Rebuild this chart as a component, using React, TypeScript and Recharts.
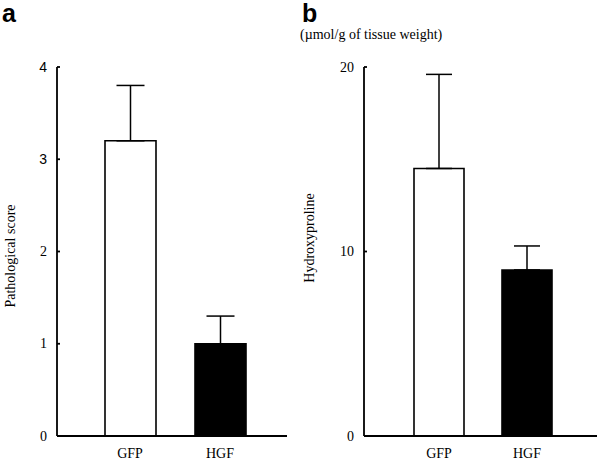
import React from 'react';
import { BarChart, Bar, XAxis, YAxis, ErrorBar, Cell, Label } from 'recharts';

const groups = ['GFP', 'HGF'];
const pathScore = [3.2, 1.0];
const pathScoreSd = [0.6, 0.3];
const hydroxy = [14.5, 9.0];
const hydroxySd = [5.1, 1.3];
const pathTicks = [0, 1, 2, 3, 4];
const hydroxyTicks = [0, 10, 20];

const fills = ['#ffffff', '#000000'];
const serif = '"Liberation Serif", "Times New Roman", serif';
const sans = '"Liberation Sans", Arial, sans-serif';

const pathData = groups.map((g, i) => ({ group: g, value: pathScore[i], err: [0, pathScoreSd[i]] }));
const hydroxyData = groups.map((g, i) => ({ group: g, value: hydroxy[i], err: [0, hydroxySd[i]] }));

// the scan uses a sans face for the upper two ticks of panel a
const PathTick = (props: any) => {
  const { x, y, payload } = props;
  const isSans = payload.value >= 3;
  return (
    <text x={x} y={y} textAnchor="end" dominantBaseline="central" fontSize={14}
      fontFamily={isSans ? sans : serif} fill="#000">
      {payload.value}
    </text>
  );
};

const yLabel = (text: string, cx: number, cy: number) => () => (
  <text x={cx} y={cy} transform={`rotate(-90, ${cx}, ${cy})`} textAnchor="middle"
    dominantBaseline="central" fontSize={14} fontFamily={serif} fill="#000">
    {text}
  </text>
);

const axisStyle = { stroke: '#000', strokeWidth: 1.8 };
const tickFont = { fontSize: 14, fontFamily: serif, fill: '#000' };

const App: React.FC = () => {
  return (
    <div style={{ position: 'absolute', left: 0, top: 0, width: 600, height: 463, background: '#fff' }}>
      <div style={{ position: 'absolute', left: 0, top: 0 }}>
        <BarChart width={300} height={463} data={pathData} margin={{ top: 67, right: 13, bottom: 0, left: 0 }}>
          <XAxis dataKey="group" height={27} tickLine={false} tickSize={0} tickMargin={12}
            axisLine={axisStyle} tick={tickFont} padding={{ left: 28, right: 22 }} />
          <YAxis width={57} domain={[0, 4]} ticks={pathTicks} interval={0} tickSize={-3} tickMargin={13}
            axisLine={axisStyle} tickLine={axisStyle} tick={<PathTick />}>
            <Label content={yLabel('Pathological score', 10, 256)} />
          </YAxis>
          <Bar dataKey="value" barSize={51} stroke="#000" strokeWidth={1.6} isAnimationActive={false}>
            {pathData.map((d, i) => <Cell key={d.group} fill={fills[i]} />)}
            <ErrorBar dataKey="err" width={14} stroke="#000" strokeWidth={1.5} direction="y" />
          </Bar>
        </BarChart>
      </div>
      <div style={{ position: 'absolute', left: 300, top: 0 }}>
        <BarChart width={300} height={463} data={hydroxyData} margin={{ top: 67, right: 3, bottom: 0, left: 0 }}>
          <XAxis dataKey="group" height={27} tickLine={false} tickSize={0} tickMargin={12}
            axisLine={axisStyle} tick={tickFont} padding={{ left: 31, right: 26 }} />
          <YAxis width={64} domain={[0, 20]} ticks={hydroxyTicks} interval={0} tickSize={-3} tickMargin={13}
            axisLine={axisStyle} tickLine={axisStyle} tick={tickFont}>
            <Label content={yLabel('Hydroxyproline', 9, 238)} />
          </YAxis>
          <Bar dataKey="value" barSize={50} stroke="#000" strokeWidth={1.6} isAnimationActive={false}>
            {hydroxyData.map((d, i) => <Cell key={d.group} fill={fills[i]} />)}
            <ErrorBar dataKey="err" width={13} stroke="#000" strokeWidth={1.5} direction="y" />
          </Bar>
        </BarChart>
      </div>
      <svg width={600} height={463} style={{ position: 'absolute', left: 0, top: 0, pointerEvents: 'none' }}>
        <text x={2} y={22} fontSize={25} fontWeight="bold" fontFamily={sans} fill="#000">a</text>
        <text x={302} y={22} fontSize={25} fontWeight="bold" fontFamily={sans} fill="#000">b</text>
        <text x={300} y={39} fontSize={14} fontFamily={serif} fill="#000">(µmol/g of tissue weight)</text>
      </svg>
    </div>
  );
};

export default App;
